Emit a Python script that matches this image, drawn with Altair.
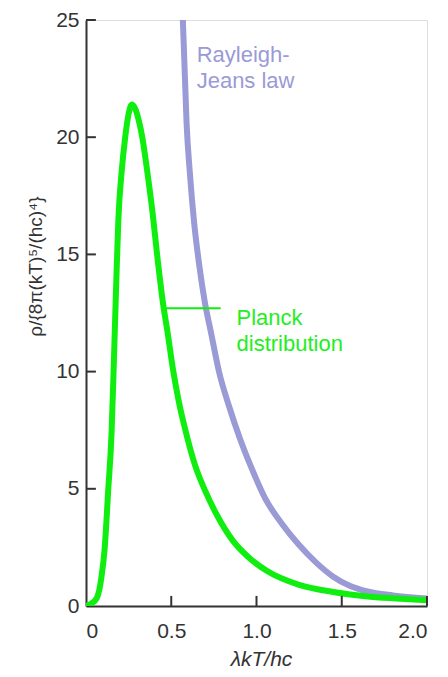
import altair as alt
import pandas as pd

# Planck distribution
planck_x = [0, 0.03, 0.064, 0.09, 0.11, 0.13, 0.15, 0.16, 0.17, 0.18, 0.19, 0.21, 0.23, 0.25, 0.27,
            0.29, 0.31, 0.33, 0.36, 0.39, 0.42, 0.45, 0.48, 0.51, 0.545, 0.59, 0.64, 0.70, 0.77, 0.86,
            0.95, 1.06, 1.25, 1.45, 1.64, 1.82, 2.0]
planck_y = [0, 0.1, 0.35, 1.2, 2.5, 4.9, 7.4, 9.6, 12.0, 14.4, 16.5, 18.6, 20.0, 21.0, 21.4,
            21.2, 20.7, 20.0, 18.5, 16.8, 14.8, 13.0, 11.6, 10.1, 8.7, 7.3, 6.0, 4.9, 3.85, 2.8,
            2.1, 1.5, 0.9, 0.6, 0.42, 0.32, 0.24]

# Rayleigh-Jeans law
rj_x = [0.567, 0.58, 0.59, 0.61, 0.635, 0.665, 0.696, 0.735, 0.78, 0.84, 0.90, 0.97, 1.05,
        1.15, 1.25, 1.35, 1.45, 1.55, 1.65, 1.8, 2.0]
rj_y = [25.2, 22.6, 20.6, 18.4, 16.3, 14.5, 13.0, 11.6, 10.0, 8.5, 7.2, 5.9, 4.6,
        3.5, 2.6, 1.85, 1.25, 0.85, 0.62, 0.45, 0.32]

x_ticks = [0.5, 1.0, 1.5, 2.0]
y_ticks = [5, 10, 15, 20, 25]

GREEN = "#10ee10"
LAV = "#9a9ad6"
AX = "#333333"

planck = pd.DataFrame({"x": planck_x, "y": planck_y})
rj = pd.DataFrame({"x": rj_x, "y": rj_y})

xs = alt.Scale(domain=[0, 2], nice=False, zero=False)
ys = alt.Scale(domain=[0, 25], nice=False)

x_axis = alt.Axis(values=[0, 0.5, 1.0, 1.5, 2.0],
                  labelExpr="datum.value == 0 ? '0' : format(datum.value, '.1f')",
                  ticks=False, grid=False, domainColor=AX, domainWidth=2,
                  labelFont="Liberation Sans", labelFontSize=21, labelColor=AX, labelPadding=14,
                  title="λkT/hc", titleFont="Liberation Sans", titleFontSize=21, titleFontStyle="italic",
                  titleFontWeight="normal", titleColor=AX, titleBaseline="alphabetic", titleY=59, titleX=175)
y_axis = alt.Axis(values=[0, 5, 10, 15, 20, 25], ticks=False, grid=False, domainColor=AX, domainWidth=2,
                  labelFont="Liberation Sans", labelFontSize=21, labelColor=AX, labelPadding=7,
                  title="ρ/{8π(kT)⁵/(hc)⁴}", titleFont="Liberation Sans", titleFontSize=19,
                  titleFontWeight="normal", titleColor=AX, titleBaseline="alphabetic",
                  titleX=-45, titleY=246)

base_x = alt.X("x:Q", scale=xs, axis=x_axis)
base_y = alt.Y("y:Q", scale=ys, axis=y_axis)

rj_line = alt.Chart(rj).mark_line(color=LAV, strokeWidth=6, interpolate="monotone", clip=True).encode(
    x=base_x, y=base_y)
planck_line = alt.Chart(planck).mark_line(color=GREEN, strokeWidth=6, interpolate="monotone", clip=True).encode(
    x="x:Q", y="y:Q")

ytk = pd.DataFrame({"y": y_ticks, "x0": [0] * len(y_ticks), "x1": [0.058] * len(y_ticks)})
xtk = pd.DataFrame({"x": x_ticks, "y0": [0] * len(x_ticks), "y1": [0.43] * len(x_ticks)})
ytick_rules = alt.Chart(ytk).mark_rule(color=AX, strokeWidth=2).encode(x="x0:Q", x2="x1:Q", y="y:Q")
xtick_rules = alt.Chart(xtk).mark_rule(color=AX, strokeWidth=2).encode(x="x:Q", y="y0:Q", y2="y1:Q")

leader = pd.DataFrame({"x0": [0.45], "x1": [0.79], "y": [12.7]})
leader_rule = alt.Chart(leader).mark_rule(color=GREEN, strokeWidth=2).encode(x="x0:Q", x2="x1:Q", y="y:Q")

labels = pd.DataFrame({
    "x": [0.649, 0.883],
    "y": [23.19, 12.0],
    "t": ["Rayleigh-\nJeans law", "Planck\ndistribution"],
    "c": [LAV, "#22ee22"],
})
label_text = alt.Chart(labels).mark_text(align="left", baseline="alphabetic", font="Liberation Sans",
                                         fontSize=22, lineBreak="\n", lineHeight=26).encode(
    x="x:Q", y="y:Q", text="t:N", color=alt.Color("c:N", scale=None))

chart = alt.layer(rj_line, planck_line, ytick_rules, xtick_rules, leader_rule, label_text).properties(
    width=341, height=586,
    autosize=alt.AutoSizeParams(type="none"),
    padding={"left": 78, "top": 12, "right": 13, "bottom": 72},
).configure_view(stroke=None).configure(background="white")

chart.save("out.html", embed_options={"renderer": "svg", "actions": False})
